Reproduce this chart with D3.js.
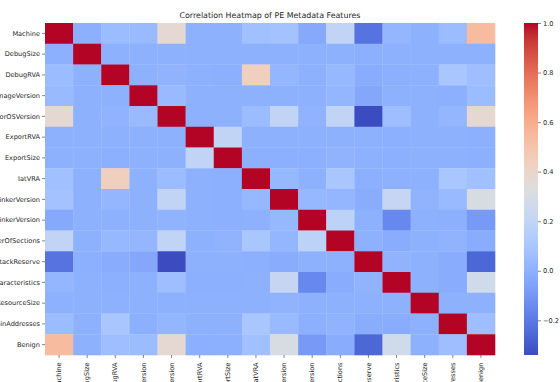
<!DOCTYPE html>
<html>
<head>
<meta charset="utf-8">
<script src="https://cdn.jsdelivr.net/npm/d3@7"></script>
<style>
  html, body { margin: 0; padding: 0; background: #fff; }
  svg { display: block; }
  text { font-family: "DejaVu Sans", sans-serif; fill: #262626; }
</style>
</head>
<body>
<svg id="chart" width="560" height="382"></svg>
<script>
const title = "Correlation Heatmap of PE Metadata Features";
const features = ["Machine","DebugSize","DebugRVA","MajorImageVersion","MajorOSVersion","ExportRVA","ExportSize","IatVRA","MajorLinkerVersion","MinorLinkerVersion","NumberOfSections","SizeOfStackReserve","DllCharacteristics","ResourceSize","BitcoinAddresses","Benign"];

const rowMachine            = [1.00,-0.01,0.05,0.04,0.37,0.00,0.00,0.07,0.08,-0.03,0.20,-0.22,0.02,0.00,0.05,0.54];
const rowDebugSize          = [-0.01,1.00,0.00,0.00,0.00,0.00,0.00,0.00,0.00,0.00,0.00,-0.01,0.00,0.00,0.00,0.00];
const rowDebugRVA           = [0.05,0.00,1.00,0.00,0.01,0.00,-0.01,0.44,0.02,0.00,0.03,-0.02,-0.01,0.00,0.10,0.06];
const rowMajorImageVersion  = [0.04,0.00,0.00,1.00,0.04,0.00,0.00,0.00,0.00,0.00,0.02,-0.04,0.00,0.00,-0.01,0.05];
const rowMajorOSVersion     = [0.37,0.00,0.01,0.04,1.00,0.00,0.00,0.05,0.20,0.01,0.20,-0.34,0.06,0.00,0.02,0.37];
const rowExportRVA          = [0.00,0.00,0.00,0.00,0.00,1.00,0.20,0.00,0.00,0.00,0.00,0.00,-0.01,0.00,0.00,-0.01];
const rowExportSize         = [0.00,0.00,-0.01,0.00,0.00,0.20,1.00,-0.01,-0.01,-0.01,0.01,0.00,-0.01,0.00,0.00,-0.01];
const rowIatVRA             = [0.07,0.00,0.44,0.00,0.05,0.00,-0.01,1.00,0.03,0.00,0.10,-0.01,0.00,0.00,0.10,0.07];
const rowMajorLinkerVersion = [0.08,0.00,0.02,0.00,0.20,0.00,-0.01,0.03,1.00,0.03,0.02,-0.02,0.22,0.01,0.04,0.30];
const rowMinorLinkerVersion = [-0.03,0.00,0.00,0.00,0.01,0.00,-0.01,0.00,0.03,1.00,0.18,0.00,-0.15,0.00,-0.01,-0.09];
const rowNumberOfSections   = [0.20,0.00,0.03,0.02,0.20,0.00,0.01,0.10,0.02,0.18,1.00,0.00,-0.02,0.00,0.01,-0.02];
const rowSizeOfStackReserve = [-0.22,-0.01,-0.02,-0.04,-0.34,0.00,0.00,-0.01,-0.02,0.00,0.00,1.00,0.01,0.00,-0.02,-0.26];
const rowDllCharacteristics = [0.02,0.00,-0.01,0.00,0.06,-0.01,-0.01,0.00,0.22,-0.15,-0.02,0.01,1.00,0.00,-0.02,0.26];
const rowResourceSize       = [0.00,0.00,0.00,0.00,0.00,0.00,0.00,0.00,0.01,0.00,0.00,0.00,0.00,1.00,0.00,0.00];
const rowBitcoinAddresses   = [0.05,0.00,0.10,-0.01,0.02,0.00,0.00,0.10,0.04,-0.01,0.01,-0.02,-0.02,0.00,1.00,0.06];
const rowBenign             = [0.54,0.00,0.06,0.05,0.37,-0.01,-0.01,0.07,0.30,-0.09,-0.02,-0.26,0.26,0.00,0.06,1.00];

const matrix = [rowMachine,rowDebugSize,rowDebugRVA,rowMajorImageVersion,rowMajorOSVersion,rowExportRVA,rowExportSize,rowIatVRA,rowMajorLinkerVersion,rowMinorLinkerVersion,rowNumberOfSections,rowSizeOfStackReserve,rowDllCharacteristics,rowResourceSize,rowBitcoinAddresses,rowBenign];
const colorbarTicks = [-0.2, 0.0, 0.2, 0.4, 0.6, 0.8, 1.0];

// coolwarm colormap control colours
const coolwarmStops = ["#3b4cc0","#445acc","#4d68d7","#5775e1","#6282ea","#6c8ef1","#779af7","#82a5fb","#8db0fe","#98b9ff","#a3c2ff","#aec9fd","#b8d0f9","#c2d5f4","#ccd9ee","#d5dbe6","#dddddd","#e5d8d1","#ecd3c5","#f1ccb8","#f5c4ac","#f7bb9f","#f7b193","#f7a686","#f49a7b","#f18d6f","#ec7f63","#e57059","#de604d","#d55044","#cb3e38","#c0282f","#b40426"];
const coolwarm = d3.piecewise(d3.interpolateRgb, coolwarmStops);

const cells = [];
matrix.forEach((row, i) => row.forEach((v, j) => cells.push({r: features[i], c: features[j], v})));

const svg = d3.select("#chart");
const mLeft = 45, mRight = 495, mTop = 23, mBottom = 355;
const x = d3.scaleBand().domain(features).range([mLeft, mRight]);
const y = d3.scaleBand().domain(features).range([mTop, mBottom]);
const ext = d3.extent(cells, d => d.v);
const color = d3.scaleSequential(coolwarm).domain(ext);

svg.append("g").selectAll("rect").data(cells).join("rect")
  .attr("x", d => x(d.c)).attr("y", d => y(d.r))
  .attr("width", x.bandwidth() + 0.3).attr("height", y.bandwidth() + 0.3)
  .attr("fill", d => color(d.v));

const fs = 6.6;
// y axis
const yAxis = svg.append("g").attr("transform", `translate(${mLeft},0)`)
  .call(d3.axisLeft(y).tickSize(3).tickPadding(2));
yAxis.select(".domain").remove();
yAxis.selectAll("line").attr("stroke", "#333").attr("stroke-width", 0.6);
yAxis.selectAll("text").attr("font-size", fs).attr("font-family", "DejaVu Sans").attr("fill", "#262626");

// x axis
const xAxis = svg.append("g").attr("transform", `translate(0,${mBottom})`)
  .call(d3.axisBottom(x).tickSize(3).tickPadding(2));
xAxis.select(".domain").remove();
xAxis.selectAll("line").attr("stroke", "#333").attr("stroke-width", 0.6);
xAxis.selectAll("text")
  .attr("font-size", fs).attr("font-family", "DejaVu Sans").attr("fill", "#262626")
  .attr("transform", "rotate(-90)")
  .attr("text-anchor", "end").attr("dy", "0.32em").attr("dx", 0).attr("x", -7.5).attr("y", 0);

// title
svg.append("text").attr("x", (mLeft + mRight) / 2).attr("y", 17.5)
  .attr("text-anchor", "middle").attr("font-size", 7.9).text(title);

// colorbar
const cbX = 524, cbW = 14;
const cbScale = d3.scaleLinear().domain(ext).range([mBottom, mTop]);
const defs = svg.append("defs");
const grad = defs.append("linearGradient").attr("id", "cbgrad")
  .attr("x1", 0).attr("y1", 1).attr("x2", 0).attr("y2", 0);
d3.range(0, 1.0001, 1 / 64).forEach(t => {
  grad.append("stop").attr("offset", t).attr("stop-color", coolwarm(t));
});
svg.append("rect").attr("x", cbX).attr("y", mTop).attr("width", cbW).attr("height", mBottom - mTop)
  .attr("fill", "url(#cbgrad)");
const cbAxis = svg.append("g").attr("transform", `translate(${cbX + cbW},0)`)
  .call(d3.axisRight(cbScale).tickValues(colorbarTicks).tickFormat(d3.format(".1f")).tickSize(3).tickPadding(2));
cbAxis.select(".domain").remove();
cbAxis.selectAll("line").attr("stroke", "#333").attr("stroke-width", 0.6);
cbAxis.selectAll("text").attr("font-size", fs).attr("font-family", "DejaVu Sans").attr("fill", "#262626");
</script>
</body>
</html>
